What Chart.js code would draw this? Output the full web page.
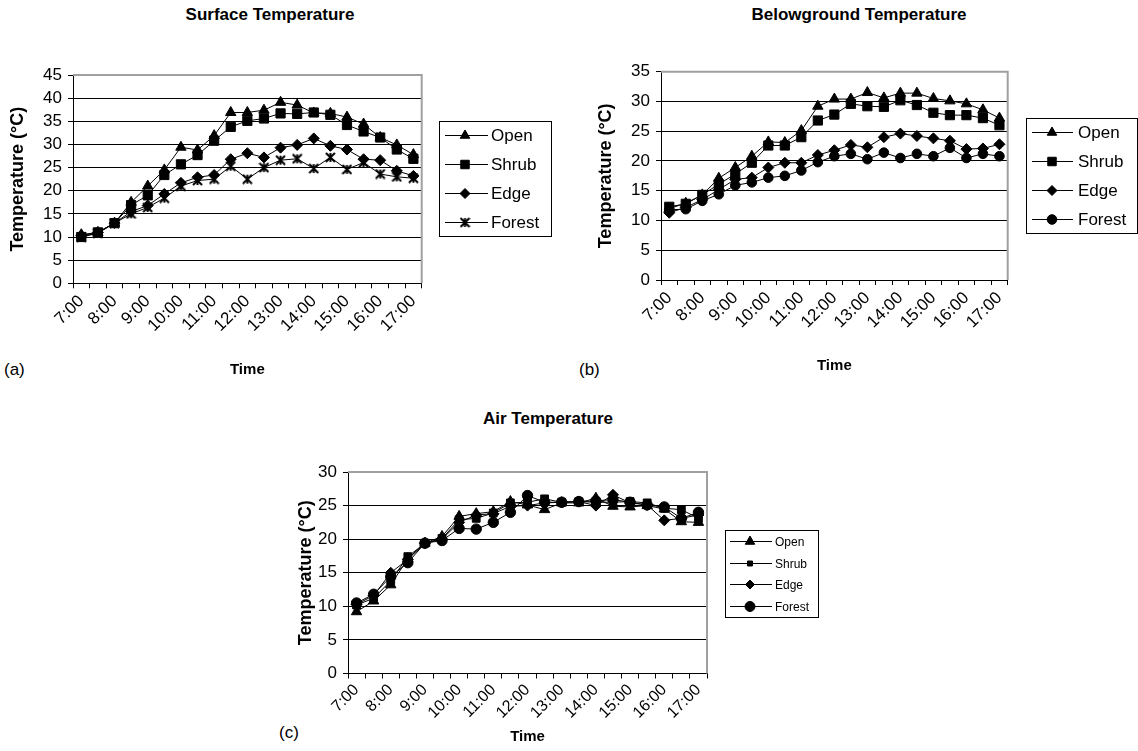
<!DOCTYPE html>
<html>
<head>
<meta charset="utf-8">
<script src="https://cdn.jsdelivr.net/npm/chart.js@4.4.0/dist/chart.umd.min.js"></script>
<style>
  body { margin: 0; background: #fff; width: 1138px; height: 751px; position: relative; overflow: hidden;
         font-family: "Liberation Sans", Arial, sans-serif; }
  canvas { position: absolute; }
  .ttl { position: absolute; font-weight: bold; font-size: 17px; text-align: center; white-space: nowrap; }
  .tag { position: absolute; font-size: 17px; }
</style>
</head>
<body>
<div class="ttl" style="left:170px; top:5px; width:200px;">Surface Temperature</div>
<div class="ttl" style="left:734px; top:5px; width:250px;">Belowground Temperature</div>
<div class="ttl" style="left:448px; top:409px; width:200px;">Air Temperature</div>
<div class="tag" style="left:4px; top:360px;">(a)</div>
<div class="tag" style="left:579px; top:360px;">(b)</div>
<div class="tag" style="left:279px; top:723px;">(c)</div>

<canvas id="chartA" width="575" height="395" style="left:0; top:0;"></canvas>
<canvas id="chartB" width="563" height="395" style="left:575px; top:0;"></canvas>
<canvas id="chartC" width="600" height="351" style="left:260px; top:400px;"></canvas>

<script>
'use strict';

// half-hourly readings, 7:00 - 17:00
var times = ['7:00', '7:30', '8:00', '8:30', '9:00', '9:30', '10:00', '10:30', '11:00', '11:30', '12:00',
             '12:30', '13:00', '13:30', '14:00', '14:30', '15:00', '15:30', '16:00', '16:30', '17:00'];
var siteNames = ['Open', 'Shrub', 'Edge', 'Forest'];

// (a) surface temperature
var surfaceOpen   = [10.5, 11, 13, 17.5, 21, 24.5, 29.4, 28.8, 31.9, 36.9, 36.9, 37.4, 39.1, 38.5, 36.8, 36.7, 35.9, 34.4, 31.5, 29.9, 27.8];
var surfaceShrub  = [10, 11, 13, 16.9, 19, 23.4, 25.7, 27.7, 30.8, 33.8, 35.1, 35.6, 36.7, 36.6, 36.9, 36.4, 34.2, 32.8, 31.5, 28.9, 26.9];
var surfaceEdge   = [10.3, 11, 13, 15.5, 16.8, 19.3, 21.7, 22.9, 23.4, 26.8, 28.1, 27.2, 29.3, 29.9, 31.3, 29.7, 28.9, 26.8, 26.6, 24.3, 23.2];
var surfaceForest = [10, 10.8, 13, 15, 16.4, 18.4, 21, 22.2, 22.5, 25.3, 22.5, 25, 26.6, 26.9, 24.8, 27.2, 24.6, 26.1, 23.6, 23, 22.7];

// (b) belowground temperature
var belowOpen   = [12, 12.9, 14.3, 17.1, 18.9, 20.8, 23.2, 23.1, 25.1, 29.2, 30.4, 30.4, 31.5, 30.6, 31.4, 31.4, 30.5, 30.1, 29.6, 28.6, 27.2];
var belowShrub  = [12.3, 12.8, 14.3, 16.1, 17.8, 19.7, 22.6, 22.6, 24, 26.8, 27.8, 29.6, 29.2, 29.1, 30.2, 29.4, 28.1, 27.7, 27.7, 27.2, 26];
var belowEdge   = [11.3, 12.2, 13.5, 15.2, 16.9, 17.2, 18.9, 19.7, 19.7, 21, 21.8, 22.7, 22.3, 24, 24.6, 24.2, 23.8, 23.4, 22, 22.1, 22.8];
var belowForest = [11.8, 11.9, 13.3, 14.4, 15.9, 16.4, 17.2, 17.5, 18.4, 19.8, 20.8, 21.2, 20.3, 21.4, 20.5, 21.2, 20.8, 22.2, 20.5, 21.2, 20.8];

// (c) air temperature
var airOpen   = [9.2, 10.8, 13.2, 17.1, 19.4, 20.4, 23.4, 23.8, 24.1, 25.6, 25.1, 24.4, 25.4, 25.4, 26.1, 24.9, 24.8, 25, 24.5, 22.6, 22.5];
var airShrub  = [10.2, 11.2, 13.8, 17.4, 19.4, 20.1, 22.9, 23.1, 23.9, 25.4, 25.5, 26, 25.5, 25.6, 25.5, 25.5, 25.6, 25.4, 24.6, 24.4, 23.1];
var airEdge   = [10.3, 11.6, 15, 17, 19.4, 20, 22.5, 23.6, 23.8, 24.9, 25, 25.4, 25.5, 25.6, 25, 26.6, 25.4, 25.1, 22.8, 23.1, 23.6];
var airForest = [10.5, 11.8, 14.4, 16.5, 19.4, 19.8, 21.6, 21.5, 22.5, 24, 26.5, 25.5, 25.5, 25.6, 25.7, 25.9, 25.5, 25.1, 24.8, 23.1, 24];

var FONT = '"Liberation Sans", Arial, sans-serif';

// Excel style asterisk marker
function asterisk(size) {
  var c = document.createElement('canvas');
  c.width = size; c.height = size;
  var g = c.getContext('2d');
  g.strokeStyle = '#000';
  g.lineWidth = 2;
  var m = size / 2, r = size / 2 - 1;
  g.beginPath();
  g.moveTo(m, m - r); g.lineTo(m, m + r);
  g.moveTo(m - r, m - r); g.lineTo(m + r, m + r);
  g.moveTo(m + r, m - r); g.lineTo(m - r, m + r);
  g.stroke();
  return c;
}

// legend in a box, line + marker + name
var boxLegend = {
  id: 'boxLegend',
  afterDraw: function (chart, args, o) {
    var ctx = chart.ctx;
    ctx.save();
    ctx.strokeStyle = '#000';
    ctx.fillStyle = '#000';
    ctx.lineWidth = 1;
    ctx.strokeRect(o.x + 0.5, o.y + 0.5, o.w, o.h);
    var rowH = o.h / chart.data.datasets.length;
    ctx.font = o.fontSize + 'px ' + FONT;
    ctx.textBaseline = 'middle';
    chart.data.datasets.forEach(function (ds, i) {
      var cy = Math.round(o.y + rowH * (i + 0.5)) + 0.5;
      ctx.beginPath();
      ctx.moveTo(o.lineX0, cy);
      ctx.lineTo(o.lineX1, cy);
      ctx.stroke();
      var r = (o.radii && o.radii[i]) || ds.pointRadius;
      Chart.helpers.drawPoint(ctx, { pointStyle: ds.pointStyle, radius: r, rotation: 0, borderWidth: 1 }, o.markX, cy);
      ctx.fillText(ds.label, o.textX, cy + 1);
    });
    ctx.restore();
  }
};

// gray top and right edges of the plot area
var plotFrame = {
  id: 'plotFrame',
  beforeDatasetsDraw: function (chart) {
    var a = chart.chartArea, ctx = chart.ctx;
    ctx.save();
    ctx.strokeStyle = '#a0a0a0';
    ctx.lineWidth = 2;
    ctx.beginPath();
    ctx.moveTo(a.left, a.top);
    ctx.lineTo(a.right, a.top);
    ctx.lineTo(a.right, a.bottom);
    ctx.stroke();
    ctx.restore();
  }
};

function makeChart(id, series, styles, radii, ymax, box, legend) {
  var datasets = series.map(function (values, i) {
    return {
      label: siteNames[i],
      data: values,
      borderColor: '#000',
      backgroundColor: '#000',
      borderWidth: 1,
      pointStyle: styles[i],
      pointRadius: radii[i],
      pointBorderWidth: 1,
      tension: 0
    };
  });
  var W = box.W, H = box.H;
  return new Chart(document.getElementById(id), {
    type: 'line',
    data: { labels: times, datasets: datasets },
    plugins: [plotFrame, boxLegend],
    options: {
      responsive: false,
      animation: false,
      devicePixelRatio: 1,
      layout: { padding: { left: 0, top: box.top, right: W - box.right, bottom: 0 } },
      plugins: {
        legend: { display: false },
        tooltip: { enabled: false },
        boxLegend: legend
      },
      scales: {
        x: {
          offset: true,
          afterFit: function (s) { s.height = H - box.bottom; },
          grid: { offset: true, drawOnChartArea: false, drawTicks: true, tickLength: 5, color: '#000' },
          border: { color: '#000', width: 1 },
          ticks: {
            autoSkip: false, minRotation: 45, maxRotation: 45, padding: box.xPad,
            color: '#000', font: { family: FONT, size: box.xFont },
            callback: function (v, i) { return times[i].slice(-3) === ':00' ? times[i] : ''; }
          },
          title: { display: true, text: 'Time', color: '#000', font: { family: FONT, size: 15, weight: 'bold' },
                   padding: { top: 0, bottom: box.timePad } }
        },
        y: {
          min: 0, max: ymax,
          afterFit: function (s) { s.width = box.left; },
          grid: {
            color: function (c) { return c.tick && c.tick.value === ymax ? 'rgba(0,0,0,0)' : '#000'; },
            tickColor: '#000', tickLength: 5, drawTicks: true
          },
          border: { color: '#000', width: 1 },
          ticks: { stepSize: 5, autoSkip: false, padding: 6, color: '#000', font: { family: FONT, size: 17 } },
          title: { display: true, text: 'Temperature (°C)', color: '#000', font: { family: FONT, size: 18, weight: 'bold' },
                   padding: { top: box.yTitlePad, bottom: 0 } }
        }
      }
    }
  });
}

makeChart('chartA', [surfaceOpen, surfaceShrub, surfaceEdge, surfaceForest],
  ['triangle', 'rect', 'rectRot', asterisk(11)], [6, 6.5, 5.5, 5.5], 45,
  { W: 575, H: 395, left: 73, right: 421.7, top: 75, bottom: 283.3, xFont: 17, xPad: 3, timePad: 16, yTitlePad: 7 },
  { x: 439, y: 121, w: 112, h: 115, lineX0: 445, lineX1: 488, markX: 465, textX: 491, fontSize: 17, radii: [5.5, 6, 5, 5] });

makeChart('chartB', [belowOpen, belowShrub, belowEdge, belowForest],
  ['triangle', 'rect', 'rectRot', 'circle'], [6, 6.5, 5.5, 4.8], 35,
  { W: 563, H: 395, left: 86, right: 432.7, top: 71.7, bottom: 280, xFont: 17, xPad: 3, timePad: 20, yTitlePad: 20 },
  { x: 451, y: 118, w: 111, h: 115, lineX0: 457, lineX1: 498, markX: 477, textX: 503, fontSize: 17, radii: [5.5, 6, 5, 4.8] });

makeChart('chartC', [airOpen, airShrub, airEdge, airForest],
  ['triangle', 'rect', 'rectRot', 'circle'], [6, 5.5, 5.5, 5.2], 30,
  { W: 600, H: 351, left: 88, right: 447, top: 72, bottom: 273.5, xFont: 16, xPad: 2, timePad: 5, yTitlePad: 35 },
  { x: 465, y: 130, w: 93, h: 87, lineX0: 470, lineX1: 512, markX: 490, textX: 515, fontSize: 12, radii: [5.5, 3.5, 4.5, 5] });
</script>
</body>
</html>
